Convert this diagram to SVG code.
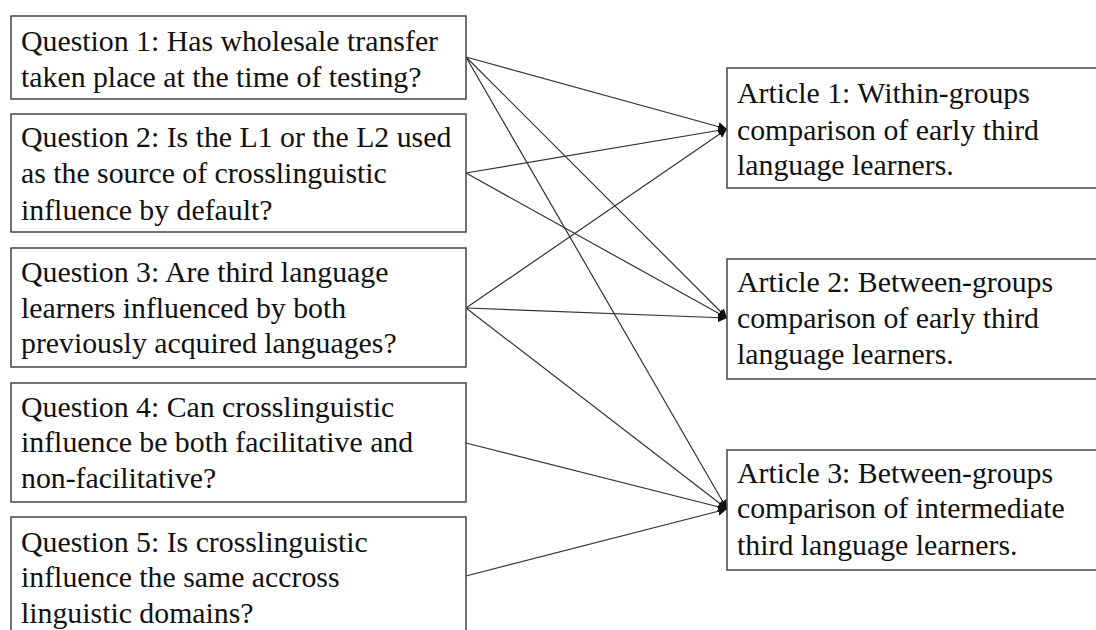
<svg xmlns="http://www.w3.org/2000/svg" width="1096" height="630" viewBox="0 0 1096 630">
<style>
.box{fill:#fff;stroke:#444;stroke-width:1.5}
.t{font-family:"Liberation Serif","Times New Roman",serif;font-size:29.8px;fill:#111}
.c{stroke:#333;stroke-width:1.2;fill:none;marker-end:url(#ah)}
</style>
<defs>
<marker id="ah" viewBox="0 0 10 10" refX="10" refY="5" markerWidth="9" markerHeight="9" markerUnits="userSpaceOnUse" orient="auto">
<path d="M0,0 L10,5 L0,10 z" fill="#111"/>
</marker>
</defs>
<rect width="1096" height="630" fill="#fff"/>
<g id="connectors">
<line class="c" x1="466" y1="57" x2="727" y2="129"/>
<line class="c" x1="466" y1="57" x2="727" y2="318"/>
<line class="c" x1="466" y1="57" x2="727" y2="509"/>
<line class="c" x1="466" y1="173" x2="727" y2="129"/>
<line class="c" x1="466" y1="173" x2="727" y2="318"/>
<line class="c" x1="466" y1="308" x2="727" y2="129"/>
<line class="c" x1="466" y1="308" x2="727" y2="318"/>
<line class="c" x1="466" y1="308" x2="727" y2="509"/>
<line class="c" x1="466" y1="443" x2="727" y2="509"/>
<line class="c" x1="466" y1="576" x2="727" y2="509"/>
</g>
<g id="q1"><rect class="box" x="11" y="16" width="455" height="83"/>
<text class="t" x="21" y="51">Question 1: Has wholesale transfer</text>
<text class="t" x="21" y="87">taken place at the time of testing?</text></g>
<g id="q2"><rect class="box" x="11" y="114" width="455" height="118"/>
<text class="t" x="21" y="147">Question 2: Is the L1 or the L2 used</text>
<text class="t" x="21" y="183">as the source of crosslinguistic</text>
<text class="t" x="21" y="220">influence by default?</text></g>
<g id="q3"><rect class="box" x="11" y="248" width="455" height="119"/>
<text class="t" x="21" y="282">Question 3: Are third language</text>
<text class="t" x="21" y="318">learners influenced by both</text>
<text class="t" x="21" y="353">previously acquired languages?</text></g>
<g id="q4"><rect class="box" x="11" y="383" width="455" height="119"/>
<text class="t" x="21" y="417">Question 4: Can crosslinguistic</text>
<text class="t" x="21" y="452">influence be both facilitative and</text>
<text class="t" x="21" y="488">non-facilitative?</text></g>
<g id="q5"><rect class="box" x="11" y="517" width="455" height="130"/>
<text class="t" x="21" y="552">Question 5: Is crosslinguistic</text>
<text class="t" x="21" y="587">influence the same accross</text>
<text class="t" x="21" y="623">linguistic domains?</text></g>
<g id="a1"><rect class="box" x="727" y="68" width="390" height="120"/>
<text class="t" x="737" y="103">Article 1: Within-groups</text>
<text class="t" x="737" y="140">comparison of early third</text>
<text class="t" x="737" y="175">language learners.</text></g>
<g id="a2"><rect class="box" x="727" y="259" width="390" height="120"/>
<text class="t" x="737" y="292">Article 2: Between-groups</text>
<text class="t" x="737" y="328">comparison of early third</text>
<text class="t" x="737" y="364">language learners.</text></g>
<g id="a3"><rect class="box" x="727" y="450" width="390" height="120"/>
<text class="t" x="737" y="483">Article 3: Between-groups</text>
<text class="t" x="737" y="518">comparison of intermediate</text>
<text class="t" x="737" y="555">third language learners.</text></g>
</svg>
